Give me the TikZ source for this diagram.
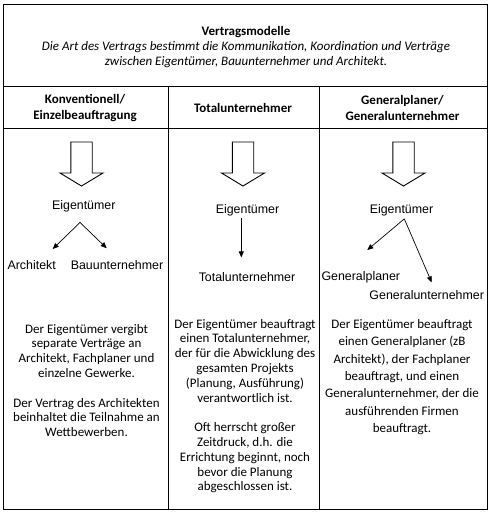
\documentclass[tikz,border=0pt]{standalone}
\usepackage{fontspec}
\setmainfont{Carlito}
\newfontfamily\arialfont{Liberation Sans}
\usepackage{tikz}
\usetikzlibrary{arrows.meta}

\begin{document}
\begin{tikzpicture}[x=1pt, y=-1pt,
    txt/.style={align=center, font=\fontsize{13}{14.8}\selectfont},
    hdr/.style={align=center, font=\fontsize{13}{15.2}\selectfont\bfseries},
    lbl/.style={font=\arialfont\fontsize{12.4}{14}\selectfont, inner sep=0pt, anchor=base},
    conn/.style={-{Triangle[length=6pt, width=5pt]}, line width=0.7pt}]
    \useasboundingbox (0,0) rectangle (491,515);
    \draw[line width=1pt] (3.5,4) rectangle (487,509);
    \draw[line width=1pt] (3.5,86) -- (487,86);
    \draw[line width=1pt] (3.5,128) -- (487,128);
    \draw[line width=1pt] (168,86) -- (168,509);
    \draw[line width=1pt] (319,86) -- (319,509);

    \node[txt, font=\fontsize{13}{15.2}\selectfont] (title) at (246,47) {\textbf{Vertragsmodelle}\\
        \textit{Die Art des Vertrags bestimmt die Kommunikation, Koordination und Verträge}\\
        \textit{zwischen Eigentümer, Bauunternehmer und Architekt.}};
    \node[hdr] (hdkonv) at (85,108) {Konventionell/\\Einzelbeauftragung};
    \node[hdr] (hdtotal) at (243,108) {Totalunternehmer};
    \node[hdr] (hdgen) at (402.5,108) {Generalplaner/\\Generalunternehmer};

    \draw[line width=0.9pt] (70.8,142) -- (92.2,142) -- (92.2,173) -- (103,173) -- (81.5,186) -- (60,173) -- (70.8,173) -- cycle;
    \draw[line width=0.9pt] (232.3,142) -- (253.7,142) -- (253.7,173) -- (264.5,173) -- (243,186) -- (221.5,173) -- (232.3,173) -- cycle;
    \draw[line width=0.9pt] (392.8,142) -- (414.2,142) -- (414.2,173) -- (425,173) -- (403.5,186) -- (382,173) -- (392.8,173) -- cycle;

    \node[lbl] (eigkonv) at (83.8,209.5) {Eigentümer};
    \node[lbl] (arch) at (31.7,269.5) {Architekt};
    \node[lbl] (bau) at (117,269.5) {Bauunternehmer};
    \draw[conn] ([shift={(-3.8,10.2)}]eigkonv.south) -- ([shift={(21,-11.3)}]arch.north);
    \draw[conn] ([shift={(-3.8,10.2)}]eigkonv.south) -- ([shift={(-10.3,-12.1)}]bau.north);

    \node[lbl] (eigtotal) at (247.5,213.5) {Eigentümer};
    \node[lbl] (tu) at (247,281) {Totalunternehmer};
    \draw[conn] ([shift={(-6.2,2.2)}]eigtotal.south) -- ([shift={(-5.7,-14.4)}]tu.north);

    \node[lbl] (eiggen) at (401.5,213.5) {Eigentümer};
    \node[lbl] (gp) at (360.8,280) {Generalplaner};
    \node[lbl] (gu) at (426.7,299) {Generalunternehmer};
    \draw[conn] ([shift={(2.8,2.6)}]eiggen.south) -- ([shift={(6.5,-20.8)}]gp.north);
    \draw[conn] ([shift={(2.8,2.6)}]eiggen.south) -- ([shift={(5,-7.4)}]gu.north);

    \node[txt] (txkonv) at (86.5,380.5) {Der Eigentümer vergibt\\
        separate Verträge an\\
        Architekt, Fachplaner und\\
        einzelne Gewerke.\\[14.8pt]
        Der Vertrag des Architekten\\
        beinhaltet die Teilnahme an\\
        Wettbewerben.};
    \node[txt] (txtotal) at (245,406) {Der Eigentümer beauftragt\\
        einen Totalunternehmer,\\
        der für die Abwicklung des\\
        gesamten Projekts\\
        (Planung, Ausführung)\\
        verantwortlich ist.\\[14.8pt]
        Oft herrscht großer\\
        Zeitdruck, d.h. die\\
        Errichtung beginnt, noch\\
        bevor die Planung\\
        abgeschlossen ist.};
    \node[txt, font=\fontsize{13}{17.3}\selectfont] (txgen) at (402,377) {Der Eigentümer beauftragt\\
        einen Generalplaner (zB\\
        Architekt), der Fachplaner\\
        beauftragt, und einen\\
        Generalunternehmer, der die\\
        ausführenden Firmen\\
        beauftragt.};
\end{tikzpicture}
\end{document}
